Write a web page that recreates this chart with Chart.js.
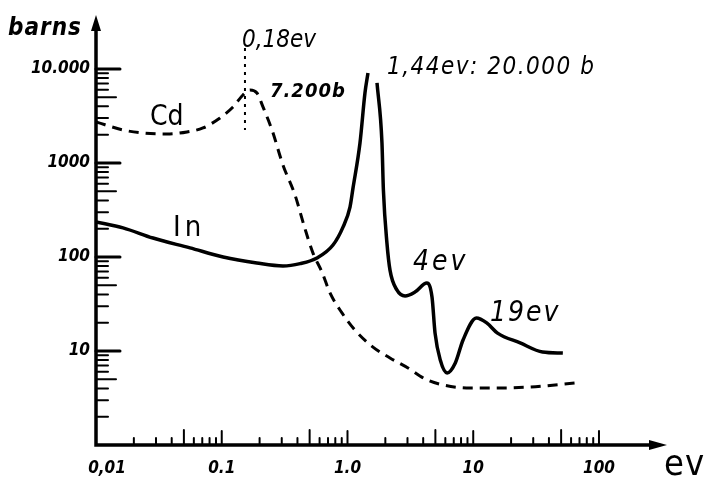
<!DOCTYPE html>
<html><head><meta charset="utf-8">
<script src="https://cdn.jsdelivr.net/npm/chart.js@4/dist/chart.umd.min.js"></script>
<style>html,body{margin:0;padding:0;background:#fff;overflow:hidden}</style>
</head><body>
<canvas id="c" width="709" height="479"></canvas>
<script>
// ---- data (energy in eV, cross-section in barns) ----
const cdEnergy = [0.01, 0.0164, 0.0236, 0.0367, 0.0529, 0.0709, 0.0968, 0.1229, 0.1476, 0.1677, 0.1906, 0.2128, 0.251, 0.307, 0.3824, 0.459, 0.5318, 0.627, 0.726, 0.904, 1.147, 1.595, 2.178, 3.03, 4.2, 5.75, 9.4, 15.6, 28.4, 66];
const cdBarns  = [2730, 2245, 2085, 2036, 2137, 2356, 3010, 3945, 5290, 5980, 5556, 3945, 2245, 950, 457, 200, 110, 69, 41.4, 25.4, 16.7, 11, 8.43, 6.59, 5.0, 4.35, 4.04, 4.04, 4.14, 4.57];
const inEnergy = [0.01, 0.0164, 0.0284, 0.0559, 0.1026, 0.19, 0.307, 0.42, 0.572, 0.767, 0.921, 1.047, 1.106, 1.257, 1.377, 1.455, 1.6, 1.717, 1.88, 1.93, 2.06, 2.18, 2.47, 2.87, 3.44, 4.28, 4.7, 4.97, 5.47, 6.2, 7.2, 8.3, 10.6, 12.8, 15.6, 23.6, 35.6, 51.6];
const inBarns  = [236, 204, 159, 125, 100, 86.3, 80.2, 85, 97.6, 134, 208, 340, 540, 1633, 5556, 9060, null, 7100, 1633, 516, 140, 72, 44.6, 38.5, 42.4, 52.8, 37.5, 15.5, 8.0, 5.83, 7.45, 13.1, 22.4, 19.9, 15.5, 12.2, 9.75, 9.5];
const markerEnergy = [0.153, 0.153];
const markerBarns  = [16700, 2245];
const xTickValues = [0.01, 0.1, 1, 10, 100];
const xTickLabels = ['0,01', '0.1', '1.0', '10', '100'];
const yTickValues = [10, 100, 1000, 10000];
const yTickLabels = ['10', '100', '1000', '10.000'];

const pts = (xs, ys) => xs.map((x, i) => ({x: x, y: ys[i]}));

const FONT = "'Liberation Sans Narrow','DejaVu Sans Condensed','Liberation Sans',sans-serif";

const handAxes = {
  id: 'handAxes',
  afterDraw(chart) {
    const ctx = chart.ctx;
    const xs = chart.scales.x, ys = chart.scales.y;
    const x0 = xs.left, y0 = ys.bottom, xEnd = xs.right, yTop = ys.top;
    ctx.save();
    ctx.strokeStyle = '#000'; ctx.fillStyle = '#000';
    ctx.lineCap = 'round';
    ctx.lineWidth = 3.5;
    ctx.beginPath();
    ctx.moveTo(x0, yTop + 8); ctx.lineTo(x0, y0); ctx.lineTo(xEnd - 8, y0);
    ctx.stroke();
    ctx.beginPath();
    ctx.moveTo(x0, yTop); ctx.lineTo(x0 - 5, yTop + 16); ctx.lineTo(x0 + 5, yTop + 16); ctx.closePath(); ctx.fill();
    ctx.beginPath();
    ctx.moveTo(xEnd, y0); ctx.lineTo(xEnd - 18, y0 - 5); ctx.lineTo(xEnd - 18, y0 + 5); ctx.closePath(); ctx.fill();
    ctx.lineWidth = 2;
    for (let d = 0.01; d < 150; d *= 10) {
      for (let k = 1; k <= 9; k++) {
        const v = d * k;
        if (v <= 0.0101 || v > 100.5) continue;
        const px = xs.getPixelForValue(v);
        const len = (k === 1) ? 14 : (k === 5 ? 15 : 7);
        ctx.beginPath(); ctx.moveTo(px, y0); ctx.lineTo(px, y0 - len); ctx.stroke();
      }
    }
    for (let d = 1; d < 15000; d *= 10) {
      for (let k = 1; k <= 9; k++) {
        const v = d * k;
        if (v <= 1.01 || v > 10001) continue;
        const py = ys.getPixelForValue(v);
        const len = (k === 1) ? 24 : (k === 5 ? 20 : 12);
        ctx.lineWidth = (k === 1) ? 3 : 2;
        ctx.beginPath(); ctx.moveTo(x0, py); ctx.lineTo(x0 + len, py); ctx.stroke();
      }
    }
    ctx.font = "italic bold 17px " + FONT;
    ctx.textAlign = 'center'; ctx.textBaseline = 'alphabetic';
    xTickValues.forEach((v, i) => {
      const px = xs.getPixelForValue(v) + (i === 0 ? 11 : 0);
      ctx.fillText(xTickLabels[i], px, y0 + 28);
    });
    ctx.textAlign = 'right'; ctx.textBaseline = 'middle';
    yTickValues.forEach((v, i) => {
      ctx.fillText(yTickLabels[i], x0 - 6, ys.getPixelForValue(v));
    });
    ctx.textAlign = 'left'; ctx.textBaseline = 'alphabetic';
    const notes = [
      ['barns', 8, 35, 'italic bold 24px', '1px'],
      ['0,18ev', 242, 47, 'italic 24px', '0px'],
      ['7.200b', 270, 97, 'italic bold 20px', '1px'],
      ['1,44ev: 20.000 b', 387, 74, 'italic 24px', '1.5px'],
      ['Cd', 150, 125, '28px', '0px'],
      ['In', 173, 236, '29px', '4px'],
      ['4ev', 413, 270, 'italic 28px', '3px'],
      ['19ev', 490, 321, 'italic 28px', '2px'],
      ['ev', 664, 475, '36px', '1px']
    ];
    notes.forEach(n => {
      ctx.font = n[3] + ' ' + FONT;
      ctx.letterSpacing = n[4];
      ctx.fillText(n[0], n[1], n[2]);
    });
    ctx.letterSpacing = '0px';
    ctx.restore();
  }
};

new Chart(document.getElementById('c'), {
  type: 'line',
  data: {
    datasets: [
      { label: 'Cd', data: pts(cdEnergy, cdBarns), borderColor: '#000', borderWidth: 3, borderDash: [10, 7],
        pointRadius: 0, fill: false, cubicInterpolationMode: 'monotone' },
      { label: 'In', data: pts(inEnergy, inBarns), borderColor: '#000', borderWidth: 3.5,
        pointRadius: 0, fill: false, cubicInterpolationMode: 'monotone', spanGaps: false },
      { label: '0.18 eV', data: pts(markerEnergy, markerBarns), borderColor: '#000', borderWidth: 2, borderDash: [3, 5],
        pointRadius: 0, fill: false }
    ]
  },
  options: {
    responsive: false, animation: false, devicePixelRatio: 1,
    layout: { padding: { left: 96, top: 15, right: 42, bottom: 34 } },
    plugins: { legend: { display: false }, tooltip: { enabled: false } },
    scales: {
      x: { type: 'logarithmic', min: 0.01, max: 347.5, display: false },
      y: { type: 'logarithmic', min: 1, max: 37500, display: false }
    }
  },
  plugins: [handAxes]
});
</script>
</body></html>
